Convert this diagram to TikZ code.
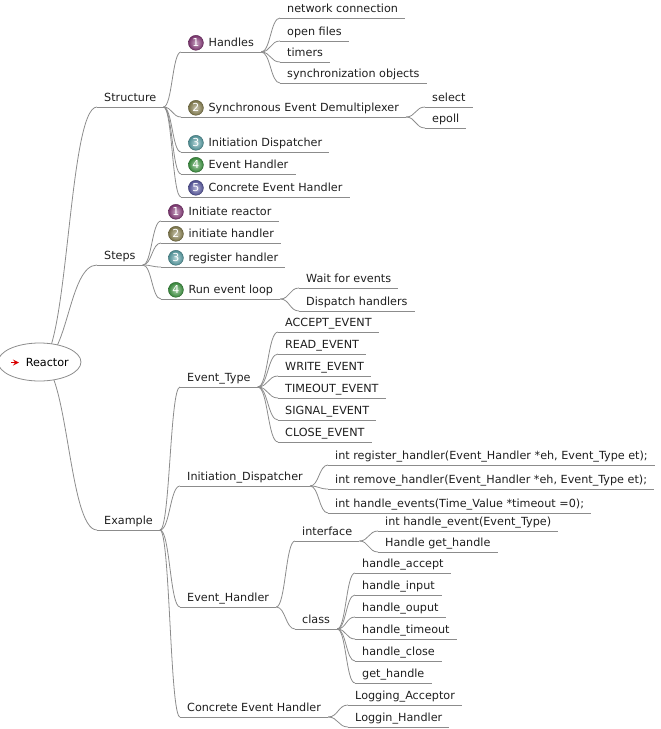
\documentclass[tikz,border=0pt]{standalone}
\usepackage{fontspec}
\setmainfont{DejaVu Sans}
\usetikzlibrary{arrows,positioning,backgrounds,calc,shapes.geometric}

\definecolor{iconA}{HTML}{8A3A7C}
\definecolor{iconB}{HTML}{8C8452}
\definecolor{iconC}{HTML}{5AA3AA}
\definecolor{iconD}{HTML}{3E9A42}
\definecolor{iconE}{HTML}{5A5AA6}
\definecolor{linegray}{HTML}{8C8C8C}
\definecolor{textgray}{HTML}{1E1E1E}

\newcommand{\mapfont}{\fontsize{11.2}{13}\selectfont}
\newcommand{\numicon}[2]{\tikz[baseline=-4pt]{%
  \shade[inner color=#1!45!white, outer color=#1!85!black, draw=#1!65!black, line width=0.4pt] (0,0) circle (7.5pt);
  \pgftext[at=\pgfpointorigin]{\color{white}\fontsize{11}{11}\selectfont #2}}\hspace{5pt}}
\newcommand{\redarrow}{\tikz[baseline=-3.5pt]\draw[red!85!black,line width=1.6pt,-stealth] (0,0) -- (8pt,0);\hspace{6pt}}

\tikzset{
  uline/.style={draw=linegray, line width=0.8pt},
  topic/.style={anchor=south west, inner xsep=7pt, inner ysep=0pt,
    text height=9pt, text depth=5pt, text=textgray, font=\mapfont,
    append after command={\pgfextra{\let\thisnode=\tikzlastnode}
      (\thisnode.south west) edge[uline] (\thisnode.south east)}},
  rootnode/.style={ellipse, draw=linegray, line width=0.8pt, fill=white,
    minimum width=78pt, minimum height=38pt, inner sep=0pt, font=\mapfont},
  mapedge/.style={draw=linegray, line width=0.8pt,
    to path={let \p1=(\tikztostart), \p2=(\tikztotarget) in
      .. controls ({0.5*\x1+0.5*\x2},\y1) and ({0.5*\x1+0.5*\x2},\y2) .. (\tikztotarget)}}
}

\begin{document}
\begin{tikzpicture}[x=1pt, y=-1pt]
  \useasboundingbox (0,0) rectangle (661,729);

  \node[rootnode] (reactor) at (39.5,362) {\redarrow Reactor};

  % Structure
  \node[topic] (structure) at (97,107) {Structure};
  \node[topic] (handles) at (181,52) {\numicon{iconA}{1}Handles};
  \node[topic] (netconn) at (280,18) {network connection};
  \node[topic] (openfiles) at (280,41) {open files};
  \node[topic] (timers) at (280,62) {timers};
  \node[topic] (syncobj) at (280,83) {synchronization objects};
  \node[topic] (demux) at (181,117) {\numicon{iconB}{2}Synchronous Event Demultiplexer};
  \node[topic] (select) at (425,107) {select};
  \node[topic] (epoll) at (425,128) {epoll};
  \node[topic] (initdisp) at (181,152) {\numicon{iconC}{3}Initiation Dispatcher};
  \node[topic] (evhandler) at (181,174) {\numicon{iconD}{4}Event Handler};
  \node[topic] (concrete) at (181,197) {\numicon{iconE}{5}Concrete Event Handler};

  % Steps
  \node[topic] (steps) at (97,265) {Steps};
  \node[topic] (initreactor) at (161,221) {\numicon{iconA}{1}Initiate reactor};
  \node[topic] (inithandler) at (161,243) {\numicon{iconB}{2}initiate handler};
  \node[topic] (reghandler) at (161,267) {\numicon{iconC}{3}register handler};
  \node[topic] (runloop) at (161,299) {\numicon{iconD}{4}Run event loop};
  \node[topic] (waitev) at (299,288) {Wait for events};
  \node[topic] (dispatch) at (299,311) {Dispatch handlers};

  % Example
  \node[topic] (example) at (97,530) {Example};
  \node[topic] (evtype) at (180,387) {Event\_Type};
  \node[topic] (accept) at (278,332) {ACCEPT\_EVENT};
  \node[topic] (read) at (278,354) {READ\_EVENT};
  \node[topic] (write) at (278,376) {WRITE\_EVENT};
  \node[topic] (timeout) at (278,398) {TIMEOUT\_EVENT};
  \node[topic] (signal) at (278,420) {SIGNAL\_EVENT};
  \node[topic] (close) at (278,442) {CLOSE\_EVENT};
  \node[topic] (dispcls) at (180,486) {Initiation\_Dispatcher};
  \node[topic] (regfn) at (328,465) {int register\_handler(Event\_Handler *eh, Event\_Type et);};
  \node[topic] (remfn) at (328,489) {int remove\_handler(Event\_Handler *eh, Event\_Type et);};
  \node[topic] (handlefn) at (328,513) {int handle\_events(Time\_Value *timeout =0);};
  \node[topic] (handlercls) at (180,607) {Event\_Handler};
  \node[topic] (iface) at (295,541) {interface};
  \node[topic] (ifevent) at (378,531) {int handle\_event(Event\_Type)};
  \node[topic] (ifget) at (378,552) {Handle get\_handle};
  \node[topic] (cls) at (295,629) {class};
  \node[topic] (haccept) at (355,573) {handle\_accept};
  \node[topic] (hinput) at (355,595) {handle\_input};
  \node[topic] (houput) at (355,617) {handle\_ouput};
  \node[topic] (htimeout) at (355,639) {handle\_timeout};
  \node[topic] (hclose) at (355,661) {handle\_close};
  \node[topic] (hget) at (355,683) {get\_handle};
  \node[topic] (concretecls) at (180,717) {Concrete Event Handler};
  \node[topic] (logacc) at (348,705) {Logging\_Acceptor};
  \node[topic] (loghand) at (348,727) {Loggin\_Handler};

  \begin{scope}[on background layer]
    \path[mapedge]
      (reactor.center) edge (structure.south west)
      (reactor.center) edge (steps.south west)
      (reactor.center) edge (example.south west)
      (structure.south east) edge (handles.south west)
      (structure.south east) edge (demux.south west)
      (structure.south east) edge (initdisp.south west)
      (structure.south east) edge (evhandler.south west)
      (structure.south east) edge (concrete.south west)
      (handles.south east) edge (netconn.south west)
      (handles.south east) edge (openfiles.south west)
      (handles.south east) edge (timers.south west)
      (handles.south east) edge (syncobj.south west)
      (demux.south east) edge (select.south west)
      (demux.south east) edge (epoll.south west)
      (steps.south east) edge (initreactor.south west)
      (steps.south east) edge (inithandler.south west)
      (steps.south east) edge (reghandler.south west)
      (steps.south east) edge (runloop.south west)
      (runloop.south east) edge (waitev.south west)
      (runloop.south east) edge (dispatch.south west)
      (example.south east) edge (evtype.south west)
      (example.south east) edge (dispcls.south west)
      (example.south east) edge (handlercls.south west)
      (example.south east) edge (concretecls.south west)
      (evtype.south east) edge (accept.south west)
      (evtype.south east) edge (read.south west)
      (evtype.south east) edge (write.south west)
      (evtype.south east) edge (timeout.south west)
      (evtype.south east) edge (signal.south west)
      (evtype.south east) edge (close.south west)
      (dispcls.south east) edge (regfn.south west)
      (dispcls.south east) edge (remfn.south west)
      (dispcls.south east) edge (handlefn.south west)
      (handlercls.south east) edge (iface.south west)
      (handlercls.south east) edge (cls.south west)
      (iface.south east) edge (ifevent.south west)
      (iface.south east) edge (ifget.south west)
      (cls.south east) edge (haccept.south west)
      (cls.south east) edge (hinput.south west)
      (cls.south east) edge (houput.south west)
      (cls.south east) edge (htimeout.south west)
      (cls.south east) edge (hclose.south west)
      (cls.south east) edge (hget.south west)
      (concretecls.south east) edge (logacc.south west)
      (concretecls.south east) edge (loghand.south west);
  \end{scope}
\end{tikzpicture}
\end{document}
